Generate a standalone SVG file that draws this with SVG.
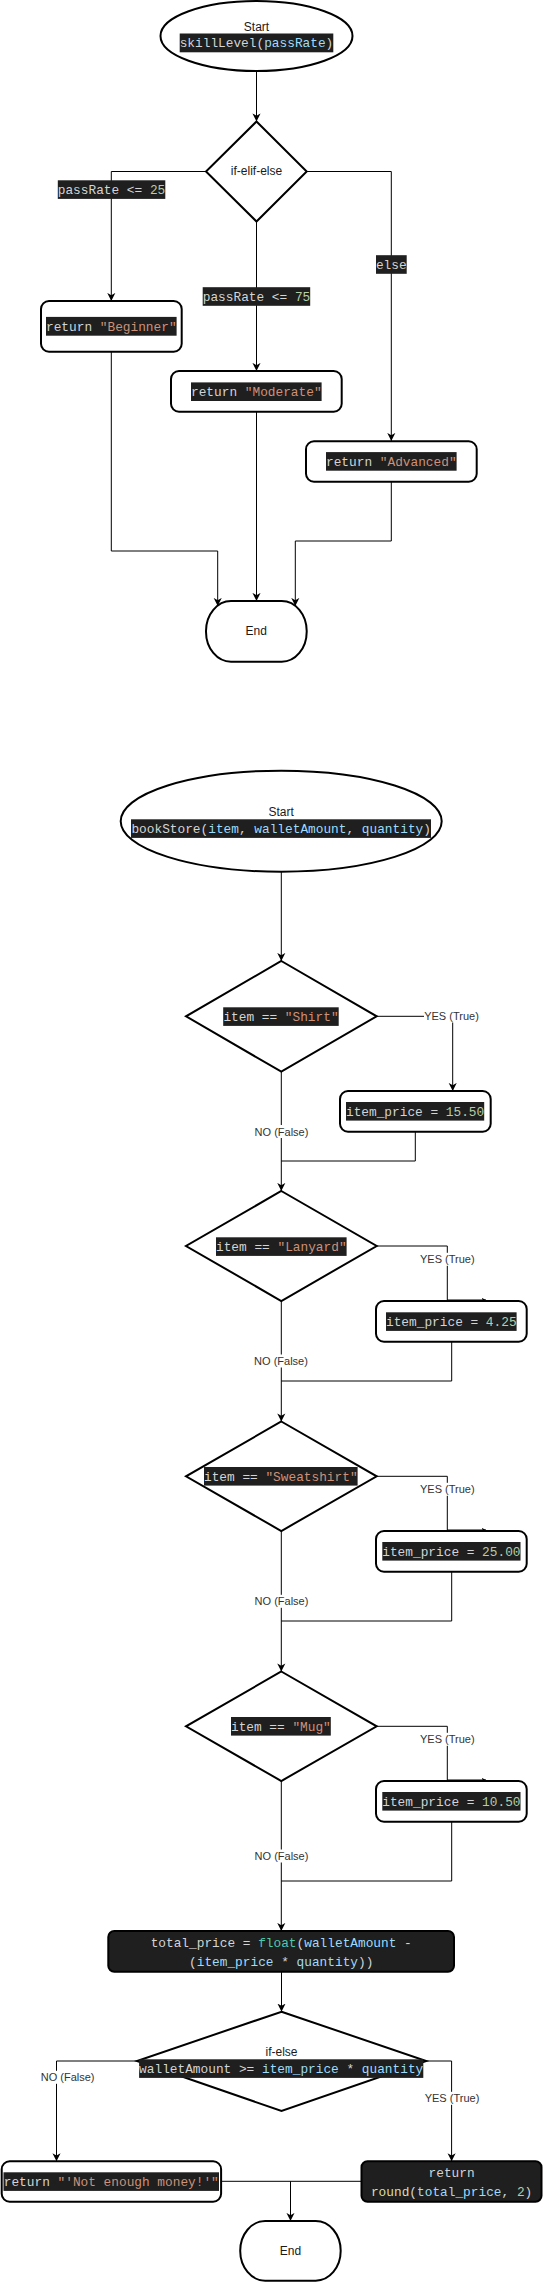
<svg xmlns="http://www.w3.org/2000/svg" width="543" height="2282" viewBox="0 0 543 2282">
<defs>
<style>
.node{fill:#fff;stroke:#000;stroke-width:2}
.dark{fill:#1f1f1f;stroke:#000;stroke-width:2}
.edge{fill:none;stroke:#000;stroke-width:1}
.t{font-family:"Liberation Sans",Arial,sans-serif;font-size:12px;fill:#1a1a1a;text-anchor:middle}
.lbl{font-family:"Liberation Sans",Arial,sans-serif;font-size:11px;fill:#333;text-anchor:middle}
.lb{fill:#fff}
.cb{fill:#1f1f1f}
.c{font-family:"Liberation Mono","Courier New",monospace;font-size:12.8px;fill:#d4d4d4;text-anchor:middle;white-space:pre}
.s{fill:#ce9178}.n{fill:#b5cea8}.v{fill:#9cdcfe}.f{fill:#4ec9b0}.y{fill:#dcdcaa}
</style>
<marker id="arr" viewBox="0 0 10 10" refX="9" refY="5" markerWidth="9" markerHeight="9" markerUnits="userSpaceOnUse" orient="auto">
<path d="M0,0.5 L9,5 L0,9.5 L2.5,5 z" fill="#000"/>
</marker>
<marker id="sm" viewBox="0 0 10 10" refX="9" refY="5" markerWidth="5" markerHeight="5" markerUnits="userSpaceOnUse" orient="auto">
<path d="M0,0.5 L9,5 L0,9.5 L2.5,5 z" fill="#000"/>
</marker>
</defs>

<g id="connectors">
<path class="edge" d="M256.5,71 V121.5" marker-end="url(#arr)"/>
<path class="edge" d="M206,171.5 H111.3 V301" marker-end="url(#arr)"/>
<path class="edge" d="M256.5,221.5 V371" marker-end="url(#arr)"/>
<path class="edge" d="M306.7,171.5 H391.3 V441" marker-end="url(#arr)"/>
<path class="edge" d="M111.3,351.7 V551 H217.7 V606" marker-end="url(#arr)"/>
<path class="edge" d="M256.5,411.7 V601" marker-end="url(#arr)"/>
<path class="edge" d="M391.3,481.7 V541 H295.3 V606" marker-end="url(#arr)"/>

<path class="edge" d="M281.3,871.7 V961" marker-end="url(#arr)"/>
<path class="edge" d="M376.7,1016.3 H452.7 V1091" marker-end="url(#arr)"/>
<path class="edge" d="M281.3,1071.7 V1191" marker-end="url(#arr)"/>
<path class="edge" d="M415.3,1131.7 V1161 H281.3"/>
<path class="edge" d="M376.7,1246 H447.3 V1300 H486" marker-end="url(#sm)"/>
<path class="edge" d="M281.3,1301 V1421.5" marker-end="url(#arr)"/>
<path class="edge" d="M451.7,1341.7 V1381 H281.3"/>
<path class="edge" d="M376.7,1476.3 H447.3 V1530 H486" marker-end="url(#sm)"/>
<path class="edge" d="M281.3,1531 V1671.5" marker-end="url(#arr)"/>
<path class="edge" d="M451.7,1571.7 V1621 H281.3"/>
<path class="edge" d="M376.7,1726.3 H447.3 V1780 H486" marker-end="url(#sm)"/>
<path class="edge" d="M281.3,1781 V1931" marker-end="url(#arr)"/>
<path class="edge" d="M451.7,1821.7 V1881 H281.3"/>
<path class="edge" d="M281.5,1971.7 V2011.7" marker-end="url(#arr)"/>
<path class="edge" d="M137,2061 H56.5 V2161.3" marker-end="url(#arr)"/>
<path class="edge" d="M426.2,2061 H451.6 V2161.3" marker-end="url(#arr)"/>
<path class="edge" d="M221,2181.3 H361.5"/>
<path class="edge" d="M290.5,2181.3 V2221" marker-end="url(#arr)"/>

<rect class="cb" x="57.8" y="180.3" width="107.5" height="18.6"/>
<text class="c" x="111.5" y="194"><tspan>passRate &lt;= </tspan><tspan class="n">25</tspan></text>
<rect class="cb" x="202.7" y="287.2" width="107.5" height="18.6"/>
<text class="c" x="256.5" y="300.9"><tspan>passRate &lt;= </tspan><tspan class="n">75</tspan></text>
<rect class="cb" x="376" y="255.2" width="30.7" height="18.6"/>
<text class="c" x="391.3" y="268.9">else</text>

<rect class="lb" x="424" y="1009.5" width="55" height="13"/>
<text class="lbl" x="451.5" y="1020">YES (True)</text>
<rect class="lb" x="254.5" y="1125" width="54" height="13"/>
<text class="lbl" x="281.5" y="1135.6">NO (False)</text>
<rect class="lb" x="420" y="1252.8" width="55" height="13"/>
<text class="lbl" x="447.3" y="1263.2">YES (True)</text>
<rect class="lb" x="254" y="1354.5" width="54" height="13"/>
<text class="lbl" x="281" y="1365">NO (False)</text>
<rect class="lb" x="420" y="1482.8" width="55" height="13"/>
<text class="lbl" x="447.3" y="1493.2">YES (True)</text>
<rect class="lb" x="254.5" y="1594.8" width="54" height="13"/>
<text class="lbl" x="281.5" y="1605.2">NO (False)</text>
<rect class="lb" x="420" y="1732.8" width="55" height="13"/>
<text class="lbl" x="447.3" y="1743.2">YES (True)</text>
<rect class="lb" x="254.5" y="1849.5" width="54" height="13"/>
<text class="lbl" x="281.5" y="1859.9">NO (False)</text>
<rect class="lb" x="40.6" y="2070.8" width="54" height="13"/>
<text class="lbl" x="67.6" y="2081.2">NO (False)</text>
<rect class="lb" x="424.5" y="2091.8" width="55" height="13"/>
<text class="lbl" x="452" y="2102.2">YES (True)</text>
</g>

<g id="start1">
<ellipse class="node" cx="256.5" cy="36" rx="96" ry="35"/>
<text class="t" x="256.5" y="31">Start</text>
<rect class="cb" x="179.7" y="33.5" width="153.6" height="18.8"/>
<text class="c" x="256.5" y="47.2"><tspan>skillLevel(</tspan><tspan class="v">passRate</tspan><tspan>)</tspan></text>
</g>

<g id="decision1">
<polygon class="node" points="256.5,121.5 306.7,171.5 256.5,221.5 206,171.5"/>
<text class="t" x="256.5" y="175.2">if-elif-else</text>
</g>

<g id="beginner">
<rect class="node" x="41" y="301" width="140.7" height="50.7" rx="8"/>
<rect class="cb" x="46" y="316.9" width="130.6" height="18.8"/>
<text class="c" x="111.3" y="330.6"><tspan>return </tspan><tspan class="s">"Beginner"</tspan></text>
</g>

<g id="moderate">
<rect class="node" x="171" y="371" width="170.7" height="40.7" rx="8"/>
<rect class="cb" x="191" y="382.4" width="130.6" height="18.6"/>
<text class="c" x="256.3" y="396"><tspan>return </tspan><tspan class="s">"Moderate"</tspan></text>
</g>

<g id="advanced">
<rect class="node" x="306" y="441.3" width="170.7" height="40.4" rx="8"/>
<rect class="cb" x="326" y="452.1" width="130.6" height="18.6"/>
<text class="c" x="391.3" y="465.7"><tspan>return </tspan><tspan class="s">"Advanced"</tspan></text>
</g>

<g id="end1">
<rect class="node" x="206" y="601" width="100.7" height="60.7" rx="25" ry="30"/>
<text class="t" x="256.3" y="635.3">End</text>
</g>

<g id="start2">
<ellipse class="node" cx="281.2" cy="821.2" rx="160.5" ry="50.5"/>
<text class="t" x="281.2" y="816">Start</text>
<rect class="cb" x="131" y="819.3" width="300" height="18.6"/>
<text class="c" x="281.2" y="832.9"><tspan>bookStore(</tspan><tspan class="v">item</tspan><tspan>, </tspan><tspan class="v">walletAmount</tspan><tspan>, </tspan><tspan class="v">quantity</tspan><tspan>)</tspan></text>
</g>

<g id="if-shirt">
<polygon class="node" points="281.3,961 376.7,1016.3 281.3,1071.7 186,1016.3"/>
<rect class="cb" x="223.2" y="1007.3" width="115.5" height="18.6"/>
<text class="c" x="281" y="1020.9"><tspan>item == </tspan><tspan class="s">"Shirt"</tspan></text>
</g>

<g id="price-shirt">
<rect class="node" x="340" y="1091" width="150.7" height="40.7" rx="8"/>
<rect class="cb" x="346" y="1102" width="138.2" height="18.6"/>
<text class="c" x="415.1" y="1115.6"><tspan>item_price = </tspan><tspan class="n">15.50</tspan></text>
</g>

<g id="if-lanyard">
<polygon class="node" points="281.3,1191 376.7,1246 281.3,1301 186,1246"/>
<rect class="cb" x="216" y="1237.3" width="130.6" height="18.6"/>
<text class="c" x="281.3" y="1250.9"><tspan>item == </tspan><tspan class="s">"Lanyard"</tspan></text>
</g>

<g id="price-lanyard">
<rect class="node" x="376" y="1301" width="150.7" height="40.7" rx="8"/>
<rect class="cb" x="386" y="1312.3" width="130.6" height="18.6"/>
<text class="c" x="451.3" y="1325.9"><tspan>item_price = </tspan><tspan class="n">4.25</tspan></text>
</g>

<g id="if-sweatshirt">
<polygon class="node" points="281.3,1421.5 376.7,1476.3 281.3,1531 186,1476.3"/>
<rect class="cb" x="204" y="1467" width="153.6" height="18.6"/>
<text class="c" x="280.8" y="1480.6"><tspan>item == </tspan><tspan class="s">"Sweatshirt"</tspan></text>
</g>

<g id="price-sweatshirt">
<rect class="node" x="376" y="1531" width="150.7" height="40.7" rx="8"/>
<rect class="cb" x="382.3" y="1542" width="138.2" height="18.6"/>
<text class="c" x="451.4" y="1555.6"><tspan>item_price = </tspan><tspan class="n">25.00</tspan></text>
</g>

<g id="if-mug">
<polygon class="node" points="281.3,1671.5 376.7,1726.3 281.3,1781 186,1726.3"/>
<rect class="cb" x="231" y="1717" width="99.8" height="18.6"/>
<text class="c" x="280.9" y="1730.6"><tspan>item == </tspan><tspan class="s">"Mug"</tspan></text>
</g>

<g id="price-mug">
<rect class="node" x="376" y="1781" width="150.7" height="40.7" rx="8"/>
<rect class="cb" x="382.3" y="1792" width="138.2" height="18.6"/>
<text class="c" x="451.4" y="1805.6"><tspan>item_price = </tspan><tspan class="n">10.50</tspan></text>
</g>

<g id="total-price">
<rect class="dark" x="108.3" y="1931" width="345.7" height="40.7" rx="6"/>
<text class="c" x="281.2" y="1947"><tspan>total_price = </tspan><tspan class="f">float</tspan><tspan>(</tspan><tspan class="v">walletAmount</tspan><tspan> -</tspan></text>
<text class="c" x="281.2" y="1966"><tspan>(</tspan><tspan class="v">item_price</tspan><tspan> * </tspan><tspan class="v">quantity</tspan><tspan>))</tspan></text>
</g>

<g id="if-wallet">
<polygon class="node" points="281.5,2011.7 426.2,2061 281.5,2111 137,2061"/>
<text class="t" x="281.5" y="2056">if-else</text>
<rect class="cb" x="139.1" y="2059.3" width="284.2" height="18.6"/>
<text class="c" x="281.2" y="2072.9"><tspan>walletAmount &gt;= </tspan><tspan class="v">item_price</tspan><tspan> * </tspan><tspan class="v">quantity</tspan></text>
</g>

<g id="not-enough">
<rect class="node" x="1.7" y="2161.3" width="219.4" height="40.4" rx="8"/>
<rect class="cb" x="3.5" y="2172.3" width="215.5" height="18.6"/>
<text class="c" x="111.3" y="2185.9"><tspan>return </tspan><tspan class="s">"'Not enough money!'"</tspan></text>
</g>

<g id="return-round">
<rect class="dark" x="361.5" y="2161.3" width="180" height="40.4" rx="6"/>
<text class="c" x="451.6" y="2177">return</text>
<text class="c" x="451.6" y="2196"><tspan class="y">round</tspan><tspan>(</tspan><tspan class="v">total_price</tspan><tspan>, </tspan><tspan class="n">2</tspan><tspan>)</tspan></text>
</g>

<g id="end2">
<rect class="node" x="240.2" y="2221" width="100.5" height="59.7" rx="25" ry="30"/>
<text class="t" x="290.5" y="2255.3">End</text>
</g>
</svg>
